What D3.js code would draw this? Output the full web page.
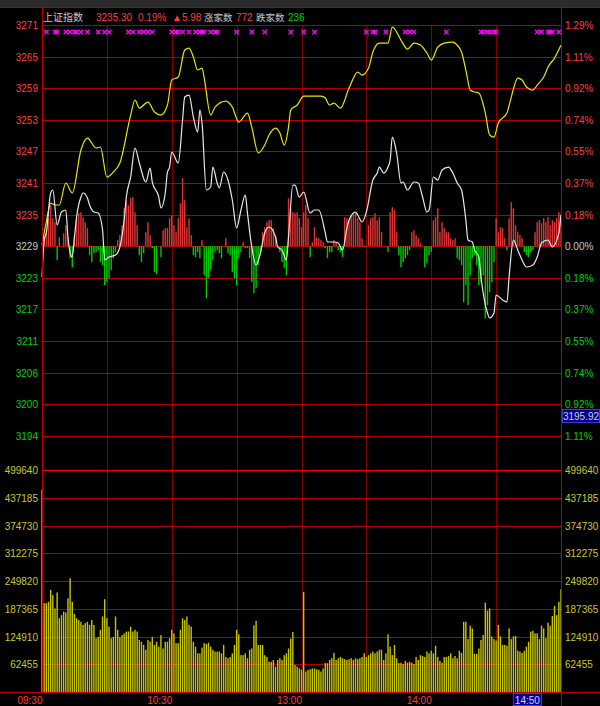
<!DOCTYPE html>
<html><head><meta charset="utf-8">
<script src="https://cdn.jsdelivr.net/npm/d3@7/dist/d3.min.js"></script>
<style>
html,body{margin:0;padding:0;background:#000;}
svg{display:block;font-family:"Liberation Sans",Arial,sans-serif;}
</style></head><body>
<svg id="c" width="600" height="706"></svg>
<script>
// ---------------- data ----------------
const indexName = "上证指数";
const prevClose = 3229.32;
const lastPrice = "3235.30";
const lastPct = "0.19%";
const lastChange = "▲5.98";
const upCount = 772;
const downCount = 236;

const priceTickLabels = ["3271","3265","3259","3253","3247","3241","3235","3229","3223","3217","3211","3206","3200","3194"];
const pctTickLabels = ["1.29%","1.11%","0.92%","0.74%","0.55%","0.37%","0.18%","0.00%","0.18%","0.37%","0.55%","0.74%","0.92%","1.11%"];
const volTicks = [62455,124910,187365,249820,312275,374730,437185,499640];
const timeLabels = [["09:30",0],["10:30",60],["13:00",120],["14:00",180]];
const cursorTime = ["14:50",230];
const cursorPrice = 3195.92;

// yellow line (minute, price)
const yellowLine = [[0,3229.55],[2,3233.9],[4,3237.45],[6,3237.08],[8,3237.08],[11,3241.22],[14,3239.34],[18,3247.43],[21,3249.69],[25,3247.81],[27,3248.00],[30,3242.35],[33,3243.29],[36,3244.99],[41,3254.02],[43,3256.85],[45,3255.34],[49,3256.47],[52,3254.59],[55,3254.02],[58,3255.91],[60,3260.61],[63,3261.18],[66,3266.26],[68,3266.64],[70,3264.94],[72,3262.50],[74,3262.87],[75,3260.99],[78,3254.02],[80,3255.53],[85,3256.66],[88,3255.53],[91,3252.70],[95,3254.40],[97,3251.76],[100,3246.87],[103,3248.37],[105,3250.26],[108,3251.57],[110,3250.63],[112,3248.37],[114,3251.76],[115,3254.96],[118,3255.91],[121,3257.60],[124,3257.60],[129,3257.60],[131,3257.22],[133,3255.91],[135,3256.28],[138,3255.34],[142,3259.11],[146,3262.12],[148,3261.55],[151,3262.87],[153,3265.88],[156,3267.58],[160,3267.58],[162,3270.59],[166,3268.14],[169,3266.45],[172,3267.58],[175,3267.20],[178,3265.70],[180,3264.38],[183,3266.83],[186,3267.58],[190,3267.77],[192,3267.20],[194,3265.88],[196,3262.50],[198,3258.73],[200,3258.35],[202,3258.16],[205,3254.40],[207,3250.26],[209,3249.88],[211,3252.52],[215,3254.40],[217,3257.41],[220,3260.99],[222,3260.61],[224,3259.29],[227,3258.73],[229,3259.67],[232,3261.18],[234,3263.06],[237,3264.75],[240,3267.20]];

// white line (minute, price)
const whiteLine = [[0,3223.52],[1,3230.49],[2,3231.81],[4,3239.34],[5,3239.90],[7,3233.30],[9,3235.76],[11,3236.14],[12,3231.05],[13,3228.04],[14,3227.29],[15,3231.05],[16,3234.82],[18,3238.58],[19,3239.34],[21,3238.40],[22,3237.08],[24,3235.76],[26,3235.57],[28,3232.37],[29,3226.72],[31,3227.29],[34,3227.66],[36,3229.17],[38,3234.25],[39,3238.58],[41,3242.35],[43,3247.81],[45,3244.99],[48,3241.41],[50,3244.04],[51,3241.41],[54,3238.58],[55,3236.51],[57,3239.34],[58,3243.29],[59,3244.23],[60,3247.06],[63,3244.99],[65,3253.08],[66,3257.41],[68,3257.79],[70,3253.65],[72,3250.82],[73,3254.96],[74,3252.52],[76,3239.90],[78,3240.47],[79,3244.23],[81,3241.22],[82,3240.28],[84,3243.29],[86,3241.78],[88,3238.02],[90,3232.75],[92,3236.14],[94,3238.96],[95,3235.57],[97,3229.17],[99,3225.78],[101,3228.04],[103,3231.81],[105,3232.94],[108,3231.05],[109,3229.17],[111,3228.60],[113,3226.72],[114,3231.05],[116,3240.84],[117,3240.84],[119,3238.58],[121,3239.52],[124,3235.57],[126,3236.14],[128,3236.14],[131,3231.81],[132,3230.11],[135,3230.11],[137,3229.92],[139,3228.60],[141,3232.75],[142,3234.25],[145,3235.76],[146,3235.19],[148,3233.88],[150,3235.76],[153,3241.78],[155,3243.10],[156,3244.23],[158,3243.10],[160,3244.23],[161,3245.55],[162,3249.88],[164,3246.87],[166,3241.22],[167,3241.41],[169,3239.90],[172,3241.41],[174,3241.22],[176,3238.58],[178,3235.76],[179,3236.14],[181,3242.35],[183,3241.78],[185,3243.67],[188,3244.23],[190,3243.10],[192,3241.22],[194,3239.90],[196,3234.25],[197,3230.49],[199,3230.11],[200,3228.60],[202,3227.29],[203,3223.52],[206,3216.74],[207,3215.80],[209,3216.74],[210,3220.13],[213,3219.19],[215,3218.81],[216,3223.52],[218,3230.49],[220,3228.60],[222,3226.72],[224,3225.40],[227,3225.78],[229,3227.29],[231,3229.92],[234,3230.49],[236,3229.17],[239,3231.81],[240,3235.30]];

// red/green strength bars, one per minute (0..240)
const strength = [0,9,14,28,41,28,24,-14,9,0,13,21,9,-12,-21,11,28,33,34,29,24,18,-9,-16,-7,-6,-4,-16,-19,-39,-36,-32,-24,-12,-6,6,11,21,38,46,41,48,49,34,21,-9,-16,-7,14,24,11,-2,-26,-28,0,-11,16,18,18,28,
31,21,14,28,43,68,46,19,28,11,-9,-11,-6,-12,6,-29,-52,-32,-24,-14,-6,-4,-7,-12,0,8,-7,-9,-26,-32,-39,-12,-6,4,-2,-2,-12,-36,-47,-42,-19,-9,14,19,24,26,26,18,11,0,-6,-16,-22,-29,48,38,34,33,34,28,
19,34,41,28,-11,4,19,9,8,6,4,-2,-12,-6,-6,6,4,-4,-6,-11,29,28,26,31,33,34,28,24,8,1,-1,21,28,29,33,26,29,14,0,0,-6,34,39,36,14,-9,-21,-16,-12,-9,-4,14,16,11,8,3,0,-21,-17,-9,
-6,26,29,38,14,24,18,14,14,8,6,8,-12,-14,-19,-56,-39,-59,-29,-12,-9,-19,-39,-36,-29,-72,-59,-46,-36,-16,28,14,19,18,8,-4,28,44,38,21,14,11,8,-6,-9,-11,-6,-4,14,24,26,23,28,24,29,21,26,24,28,34,28];

// volume per minute (0..240)
const volume = [456000,200000,200000,203000,230000,218000,188000,224000,166000,173000,181000,179000,211000,256000,203000,176000,166000,162000,158000,151000,155000,158000,151000,162000,151000,121000,124000,140000,170000,209000,
166000,147000,121000,124000,170000,140000,124000,128000,132000,136000,136000,147000,136000,140000,136000,117000,113000,106000,95000,117000,113000,124000,106000,113000,102000,128000,98000,113000,113000,121000,
140000,132000,110000,110000,140000,166000,162000,170000,151000,147000,113000,102000,87000,87000,100000,110000,108000,111000,102000,95000,91000,91000,91000,87000,106000,79000,76000,79000,87000,106000,
140000,130000,83000,83000,87000,76000,95000,98000,150000,160000,106000,106000,106000,83000,79000,68000,68000,72000,57000,72000,76000,72000,83000,87000,98000,120000,135000,61000,57000,53000,
50000,225000,46000,50000,51000,53000,53000,51000,50000,46000,53000,65000,65000,72000,76000,88000,72000,76000,79000,76000,74000,72000,74000,76000,72000,76000,74000,76000,79000,87000,
79000,83000,87000,91000,87000,91000,95000,95000,72000,87000,130000,102000,83000,106000,76000,65000,66000,63000,70000,66000,68000,66000,63000,79000,72000,83000,81000,79000,91000,87000,
93000,87000,104000,79000,70000,66000,79000,79000,81000,87000,76000,81000,76000,93000,88000,158000,158000,119000,149000,143000,86000,86000,98000,117000,128000,201000,183000,188000,125000,119000,
116000,151000,125000,106000,106000,104000,143000,119000,125000,126000,93000,91000,88000,93000,102000,113000,136000,138000,132000,132000,119000,149000,143000,121000,156000,149000,171000,194000,173000,203000,231000];

// magenta markers (minute index)
const markerTimes = [2,6,7,11,13,15,16,18,21,26,29,31,40,42,45,47,49,51,60,62,63,65,68,71,73,74,75,78,80,81,90,97,103,115,121,126,150,153,154,159,168,170,172,187,203,204,206,207,209,210,229,231,234,235,236,239];

// ---------------- layout ----------------
const L = 42, R = 561, TOP = 25, GAP = 31.6;
const svg = d3.select("#c");

// pick a narrow face if available, else a small regular one
const probe = svg.append("text").attr("font-family",'"Liberation Sans Narrow"').attr("font-size",12).text("499640");
const pw = probe.node().getComputedTextLength();
probe.remove();
const narrow = pw > 20 && pw < 35.5;
const FONT = narrow ? '"Liberation Sans Narrow"' : '"Liberation Sans"';
const FS = narrow ? 12 : 10;
const CJK = '"Noto Sans CJK SC","Liberation Sans",sans-serif';

const x = d3.scaleLinear().domain([0,240]).range([L,R]);
const step = prevClose*0.0129/7;
const yP = d3.scaleLinear().domain([prevClose-6*step, prevClose+7*step]).range([TOP+13*GAP, TOP]);
const yV = d3.scaleLinear().domain([0, 499640]).range([692, 470]);
const base = yP(prevClose);
const yS = d3.scaleLinear().domain([-100,100]).range([base+100, base-100]);

svg.append("rect").attr("width",600).attr("height",706).attr("fill","#000");
svg.append("rect").attr("width",600).attr("height",7).attr("fill","#2c2c2c");
svg.append("line").attr("x1",0).attr("x2",600).attr("y1",7.5).attr("y2",7.5).attr("stroke","#b00000");

// vertical grid
const vg = svg.append("g");
[30,60,90,120,150,180,210].forEach(t=>{
  vg.append("line").attr("x1",Math.round(x(t))+0.5).attr("x2",Math.round(x(t))+0.5)
    .attr("y1",TOP).attr("y2",692).attr("stroke","#800000").attr("stroke-width",1);
});

// price grid & labels
const gp = svg.append("g").attr("font-family",FONT).attr("font-size",FS);
priceTickLabels.forEach((lab,i)=>{
  const k = 7-i;
  const yy = Math.round(yP(prevClose+k*step))+0.5;
  gp.append("line").attr("x1",L).attr("x2",R).attr("y1",yy).attr("y2",yy).attr("stroke","#b00000");
  const col = k>0 ? "#ff3c3c" : (k===0 ? "#c8c8c8" : "#00d000");
  gp.append("text").attr("x",38).attr("y",yy+FS*0.36).attr("text-anchor","end")
    .attr("fill",col).text(lab);
  gp.append("text").attr("x",565).attr("y",yy+FS*0.36).attr("text-anchor","start")
    .attr("fill",col).text(pctTickLabels[i]);
});

// volume grid & labels
volTicks.forEach(v=>{
  const yy = Math.round(yV(v))+0.5;
  gp.append("line").attr("x1",L).attr("x2",R).attr("y1",yy).attr("y2",yy)
    .attr("stroke", v===499640 ? "#f00000" : "#b00000");
  gp.append("text").attr("x",38).attr("y",yy+FS*0.36).attr("text-anchor","end")
    .attr("fill","#c8c832").text(v);
  gp.append("text").attr("x",565).attr("y",yy+FS*0.36).attr("text-anchor","start")
    .attr("fill","#c8c832").text(v);
});

// volume bars
svg.append("g").selectAll("rect").data(volume).join("rect")
  .attr("x",(d,i)=>x(i)-0.7).attr("width",1.4)
  .attr("y",d=>yV(d)).attr("height",d=>yV(0)-yV(d))
  .attr("fill","#c4c400");

// strength bars
svg.append("g").selectAll("rect").data(strength).join("rect")
  .attr("x",(d,i)=>x(i)-0.7).attr("width",1.4)
  .attr("y",d=>Math.min(yS(d),yS(0))).attr("height",d=>Math.abs(yS(d)-yS(0)))
  .attr("fill",d=>d>=0?"#e03434":"#00c800");

// lines
const lineGen = d3.line().x(d=>x(d[0])).y(d=>yP(d[1])).curve(d3.curveMonotoneX);
svg.append("path").datum(yellowLine).attr("d",lineGen).attr("fill","none")
  .attr("stroke","#e6e600").attr("stroke-width",1.2);
svg.append("path").datum(whiteLine).attr("d",lineGen).attr("fill","none")
  .attr("stroke","#e8e8e8").attr("stroke-width",1.2);

// markers
svg.append("g").selectAll("path").data(markerTimes).join("path")
  .attr("transform",t=>`translate(${x(t)},32)`)
  .attr("d","M-2.2,-2.2L2.2,2.2M2.2,-2.2L-2.2,2.2")
  .attr("stroke","#ff00ff").attr("stroke-width",1.3).attr("fill","none");

// frame
svg.append("line").attr("x1",L+0.5).attr("x2",L+0.5).attr("y1",7).attr("y2",692).attr("stroke","#c00000");
svg.append("line").attr("x1",R+0.5).attr("x2",R+0.5).attr("y1",7).attr("y2",706).attr("stroke","#c00000");
svg.append("line").attr("x1",0).attr("x2",600).attr("y1",692.5).attr("y2",692.5).attr("stroke","#c00000");

// time labels
const ta = svg.append("g").attr("font-family",FONT).attr("font-size",FS);
timeLabels.forEach(([lab,t])=>{
  ta.append("text").attr("x",x(t)+0.5).attr("y",703.5).attr("text-anchor","end")
    .attr("fill","#ff3c3c").text(lab);
});
// cursor time box
{
  const xr = x(cursorTime[1]);
  ta.append("rect").attr("x",xr-26).attr("y",693.5).attr("width",28).attr("height",12)
    .attr("fill","#000090").attr("stroke","#3c3cd0");
  ta.append("text").attr("x",xr-12).attr("y",704).attr("text-anchor","middle")
    .attr("fill","#d0d0ff").text(cursorTime[0]);
}
// cursor price box
{
  const yc = yP(cursorPrice);
  ta.append("rect").attr("x",562.5).attr("y",yc-14).attr("width",37).attr("height",13)
    .attr("fill","#000090").attr("stroke","#3c3cd0");
  ta.append("text").attr("x",581).attr("y",yc-3.5).attr("text-anchor","middle")
    .attr("fill","#d0d0d0").text(cursorPrice.toFixed(2));
}

// header
const hd = svg.append("g").attr("font-family",FONT).attr("font-size",FS);
const hy = 20.5;
hd.append("text").attr("x",43).attr("y",hy).attr("fill","#c8c8c8").attr("font-family",CJK).attr("font-size",10).text(indexName);
hd.append("text").attr("x",96).attr("y",hy).attr("fill","#ff3c3c").text(lastPrice);
hd.append("text").attr("x",138).attr("y",hy).attr("fill","#ff3c3c").text(lastPct);
hd.append("text").attr("x",172).attr("y",hy).attr("fill","#ff3c3c").text(lastChange);
hd.append("text").attr("x",204).attr("y",hy).attr("fill","#c8c8c8").attr("font-family",CJK).attr("font-size",9.5).text("涨家数");
hd.append("text").attr("x",236).attr("y",hy).attr("fill","#ff3c3c").text(upCount);
hd.append("text").attr("x",256).attr("y",hy).attr("fill","#c8c8c8").attr("font-family",CJK).attr("font-size",9.5).text("跌家数");
hd.append("text").attr("x",288).attr("y",hy).attr("fill","#00d000").text(downCount);
</script>
</body></html>
